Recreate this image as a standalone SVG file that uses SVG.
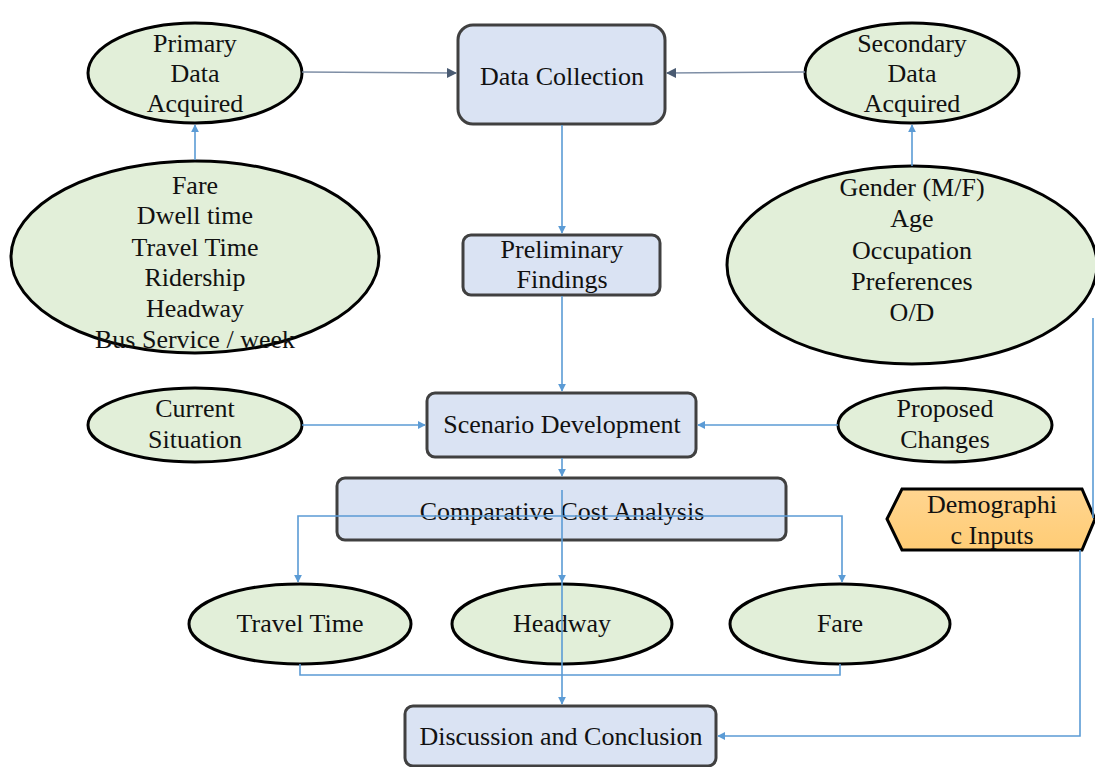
<svg xmlns="http://www.w3.org/2000/svg" width="1095" height="767" viewBox="0 0 1095 767" font-family="'Liberation Serif', 'Times New Roman', serif">
  <defs>
    <marker id="arrBlue" viewBox="0 0 10 10" refX="9" refY="5" markerWidth="8" markerHeight="8" markerUnits="userSpaceOnUse" orient="auto">
      <path d="M0,0 L10,5 L0,10 z" fill="#5b9bd5"/>
    </marker>
    <marker id="arrDark" viewBox="0 0 10 10" refX="9" refY="5" markerWidth="10" markerHeight="10" markerUnits="userSpaceOnUse" orient="auto">
      <path d="M0,0 L10,5 L0,10 z" fill="#4a5b72"/>
    </marker>
    <linearGradient id="hexFill" x1="0" y1="0" x2="0" y2="1">
      <stop offset="0" stop-color="#ffd590"/>
      <stop offset="1" stop-color="#ffcc75"/>
    </linearGradient>
    <style>
      .oval { fill: #e2efd9; stroke: #000; stroke-width: 3; }
      .box { fill: #dae3f3; stroke: #404040; stroke-width: 3; }
      .t { font-size: 26px; fill: #111; text-anchor: middle; }
      .c { fill: none; stroke: #5b9bd5; stroke-width: 1.6; }
      .cd { fill: none; stroke: #7f8fa6; stroke-width: 1.6; }
    </style>
  </defs>

  <g id="primary-data">
    <ellipse class="oval" cx="195" cy="73" rx="107" ry="50"/>
    <text class="t" x="195" y="52">Primary</text>
    <text class="t" x="195" y="82">Data</text>
    <text class="t" x="195" y="112">Acquired</text>
  </g>

  <g id="data-collection">
    <rect class="box" x="458" y="25" width="207" height="99" rx="15"/>
    <text class="t" x="562" y="85">Data Collection</text>
  </g>

  <g id="secondary-data">
    <ellipse class="oval" cx="912" cy="73" rx="107" ry="50"/>
    <text class="t" x="912" y="52">Secondary</text>
    <text class="t" x="912" y="82">Data</text>
    <text class="t" x="912" y="112">Acquired</text>
  </g>

  <g id="primary-fields">
    <ellipse class="oval" cx="195" cy="257" rx="184" ry="96"/>
    <text class="t" x="195" y="194">Fare</text>
    <text class="t" x="195" y="224">Dwell time</text>
    <text class="t" x="195" y="256">Travel Time</text>
    <text class="t" x="195" y="286">Ridership</text>
    <text class="t" x="195" y="317">Headway</text>
    <text class="t" x="195" y="348">Bus Service / week</text>
  </g>

  <g id="secondary-fields">
    <ellipse class="oval" cx="912" cy="265" rx="185" ry="99"/>
    <text class="t" x="912" y="196">Gender (M/F)</text>
    <text class="t" x="912" y="227">Age</text>
    <text class="t" x="912" y="259">Occupation</text>
    <text class="t" x="912" y="290">Preferences</text>
    <text class="t" x="912" y="321">O/D</text>
  </g>

  <g id="preliminary-findings">
    <rect class="box" x="463" y="235" width="197" height="60" rx="8"/>
    <text class="t" x="562" y="258">Preliminary</text>
    <text class="t" x="562" y="288">Findings</text>
  </g>

  <g id="current-situation">
    <ellipse class="oval" cx="195" cy="425" rx="107" ry="37"/>
    <text class="t" x="195" y="417">Current</text>
    <text class="t" x="195" y="448">Situation</text>
  </g>

  <g id="scenario-development">
    <rect class="box" x="427" y="393" width="269" height="64" rx="8"/>
    <text class="t" x="562" y="433">Scenario Development</text>
  </g>

  <g id="proposed-changes">
    <ellipse class="oval" cx="945" cy="425" rx="107" ry="37"/>
    <text class="t" x="945" y="417">Proposed</text>
    <text class="t" x="945" y="448">Changes</text>
  </g>

  <g id="comparative-cost-analysis">
    <rect class="box" x="337" y="478" width="449" height="62" rx="8"/>
    <text class="t" x="562" y="520">Comparative Cost Analysis</text>
  </g>

  <g id="demographic-inputs">
    <polygon points="887,519 902,489 1082,489 1095,519 1082,550 902,550" fill="url(#hexFill)" stroke="#000" stroke-width="3"/>
    <text class="t" x="992" y="513">Demographi</text>
    <text class="t" x="992" y="544">c Inputs</text>
  </g>

  <g id="travel-time">
    <ellipse class="oval" cx="300" cy="624" rx="111" ry="40"/>
    <text class="t" x="300" y="632">Travel Time</text>
  </g>

  <g id="headway">
    <ellipse class="oval" cx="562" cy="624" rx="110" ry="40"/>
    <text class="t" x="562" y="632">Headway</text>
  </g>

  <g id="fare">
    <ellipse class="oval" cx="840" cy="624" rx="110" ry="40"/>
    <text class="t" x="840" y="632">Fare</text>
  </g>

  <g id="discussion-conclusion">
    <rect class="box" x="405" y="706" width="311" height="60" rx="8"/>
    <text class="t" x="561" y="745">Discussion and Conclusion</text>
  </g>

  <!-- connectors, drawn last so they run over the boxes they cross -->
  <g id="connectors">
    <line class="cd" x1="302" y1="72" x2="456" y2="73" marker-end="url(#arrDark)"/>
    <line class="cd" x1="805" y1="72" x2="667" y2="73" marker-end="url(#arrDark)"/>
    <line class="c" x1="195" y1="160" x2="195" y2="125" marker-end="url(#arrBlue)"/>
    <line class="c" x1="912" y1="166" x2="912" y2="125" marker-end="url(#arrBlue)"/>
    <line class="c" x1="562" y1="125" x2="562" y2="233" marker-end="url(#arrBlue)"/>
    <line class="c" x1="562" y1="296" x2="562" y2="391" marker-end="url(#arrBlue)"/>
    <line class="c" x1="302" y1="425" x2="425" y2="425" marker-end="url(#arrBlue)"/>
    <line class="c" x1="838" y1="425" x2="698" y2="425" marker-end="url(#arrBlue)"/>
    <line class="c" x1="562" y1="458" x2="562" y2="476" marker-end="url(#arrBlue)"/>
    <polyline class="c" points="562,516 298,516 298,582" marker-end="url(#arrBlue)"/>
    <polyline class="c" points="562,516 842,516 842,582" marker-end="url(#arrBlue)"/>
    <line class="c" x1="562" y1="490" x2="562" y2="582" marker-end="url(#arrBlue)"/>
    <line class="c" x1="562" y1="582" x2="562" y2="704" marker-end="url(#arrBlue)"/>
    <polyline class="c" points="300,664 300,675 840,675 840,664"/>
    <line class="c" x1="1093" y1="318" x2="1093" y2="518"/>
    <polyline class="c" points="1080,550 1080,736 718,736" marker-end="url(#arrBlue)"/>
  </g>
</svg>
